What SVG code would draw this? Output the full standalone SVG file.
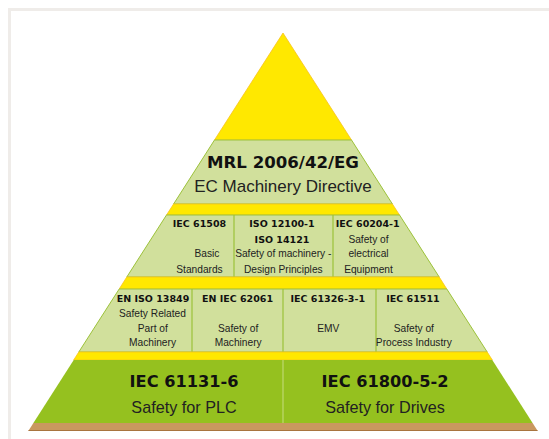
<svg xmlns="http://www.w3.org/2000/svg" width="549" height="439" viewBox="0 0 549 439">
<style>
.yel{fill:#ffe800;stroke:#f7c21c;stroke-width:0.8}
.lg{fill:#d1e09c;stroke:#9cc23a;stroke-width:1}
.dg{fill:#95c11f}
.div{stroke:#9cc23a;stroke-width:1.2}
.b{font-family:"DejaVu Sans",sans-serif;font-weight:bold;fill:#111;text-anchor:middle}
.r{font-family:"Liberation Sans",Arial,sans-serif;fill:#222;text-anchor:middle}
.s{font-size:10.2px}
.sb{font-size:9.5px}
</style>
<rect x="0" y="0" width="549" height="439" fill="#ffffff"/>
<rect x="9.5" y="9.5" width="600" height="600" fill="#ffffff" stroke="#efece9" stroke-width="3"/>

<g id="apex">
<polygon class="yel" points="283,33 351.5,140 214.5,140"/>
</g>

<g id="mrl">
<polygon class="lg" points="214.5,140 351.5,140 392.4,204 173.6,204"/>
<text class="b" x="283" y="168" font-size="16.6">MRL 2006/42/EG</text>
<text class="r" x="283" y="192" font-size="17">EC Machinery Directive</text>
</g>

<g id="band1">
<polygon class="yel" points="173.6,204 392.4,204 399.5,215 166.5,215"/>
</g>

<g id="row2">
<polygon class="lg" points="166.5,215 399.5,215 439.2,277 126.8,277"/>
<line class="div" x1="234" y1="215" x2="234" y2="277"/>
<line class="div" x1="333" y1="215" x2="333" y2="277"/>
</g>
<g id="iec61508">
<text class="b sb" x="199.5" y="227">IEC 61508</text>
<text class="r s" x="207" y="257">Basic</text>
<text class="r s" x="199.5" y="272.5">Standards</text>
</g>
<g id="iso12100">
<text class="b sb" x="282" y="227">ISO 12100-1</text>
<text class="b sb" x="282" y="242.5">ISO 14121</text>
<text class="r s" x="283.3" y="257">Safety of machinery -</text>
<text class="r s" x="283.3" y="272.5">Design Principles</text>
</g>
<g id="iec60204">
<text class="b sb" x="367.7" y="227">IEC 60204-1</text>
<text class="r s" x="368.5" y="242.5">Safety of</text>
<text class="r s" x="368.5" y="257">electrical</text>
<text class="r s" x="368.5" y="272.5">Equipment</text>
</g>

<g id="band2">
<polygon class="yel" points="126.8,277 439.2,277 446.8,289 119.2,289"/>
</g>

<g id="row3">
<polygon class="lg" points="119.2,289 446.8,289 487.2,352 78.8,352"/>
<line class="div" x1="192" y1="289" x2="192" y2="352"/>
<line class="div" x1="283" y1="289" x2="283" y2="352"/>
<line class="div" x1="376" y1="289" x2="376" y2="352"/>
</g>
<g id="en13849">
<text class="b sb" x="153" y="301.7">EN ISO 13849</text>
<text class="r s" x="152.5" y="316.7">Safety Related</text>
<text class="r s" x="152.8" y="331.7">Part of</text>
<text class="r s" x="152.5" y="346">Machinery</text>
</g>
<g id="en62061">
<text class="b sb" x="237.5" y="301.7">EN IEC 62061</text>
<text class="r s" x="238.2" y="331.7">Safety of</text>
<text class="r s" x="238.2" y="346">Machinery</text>
</g>
<g id="iec61326">
<text class="b sb" x="327.8" y="301.7">IEC 61326-3-1</text>
<text class="r s" x="328.3" y="331.7">EMV</text>
</g>
<g id="iec61511">
<text class="b sb" x="413" y="301.7">IEC 61511</text>
<text class="r s" x="413.8" y="331.7">Safety of</text>
<text class="r s" x="413.8" y="346">Process Industry</text>
</g>

<g id="band3">
<polygon class="yel" points="78.8,352 487.2,352 492.3,360 73.7,360"/>
</g>

<g id="base">
<polygon class="dg" points="73.7,360 492.3,360 532.6,423 33.4,423"/>
<line x1="283" y1="360" x2="283" y2="423" stroke="#c6dc80" stroke-width="1"/>
<polygon points="33.4,423 532.6,423 537.7,431 28.3,431" fill="#c9985f"/>
<line x1="28.5" y1="430.5" x2="537.5" y2="430.5" stroke="#a8743f" stroke-width="1"/>
</g>
<g id="iec61131">
<text class="b" x="184" y="387.3" font-size="16.2">IEC 61131-6</text>
<text class="r" x="184" y="412.7" font-size="16.2">Safety for PLC</text>
</g>
<g id="iec61800">
<text class="b" x="385" y="387.3" font-size="16.2">IEC 61800-5-2</text>
<text class="r" x="385" y="412.7" font-size="16.2">Safety for Drives</text>
</g>
</svg>
